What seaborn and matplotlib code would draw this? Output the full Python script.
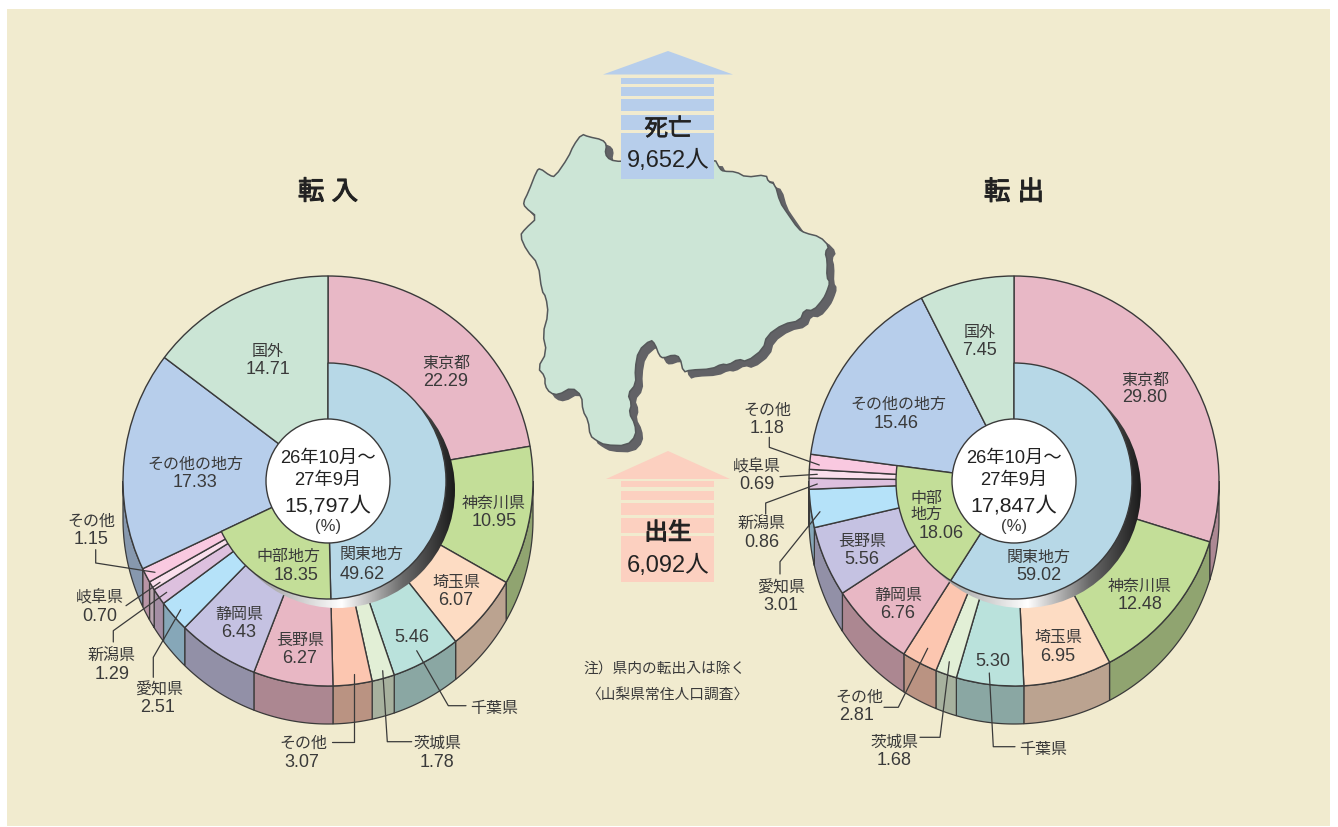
import numpy as np
import seaborn as sns
import matplotlib
matplotlib.use('Agg')
import matplotlib.pyplot as plt
import matplotlib.patheffects as pe
from matplotlib.colors import LinearSegmentedColormap
from matplotlib.patches import Circle, Polygon, Rectangle

# ----------------------------------------------------------------
# Data
# ----------------------------------------------------------------
in_names = ['東京都', '神奈川県', '埼玉県', '千葉県', '茨城県', 'その他', '長野県', '静岡県',
            '愛知県', '新潟県', '岐阜県', 'その他', 'その他の地方', '国外']
in_values = [22.29, 10.95, 6.07, 5.46, 1.78, 3.07, 6.27, 6.43, 2.51, 1.29, 0.70, 1.15, 17.33, 14.71]
in_inner_names = ['関東地方', '中部地方']
in_inner_values = [49.62, 18.35]
in_total = '15,797人'

out_names = ['東京都', '神奈川県', '埼玉県', '千葉県', '茨城県', 'その他', '静岡県', '長野県',
             '愛知県', '新潟県', '岐阜県', 'その他', 'その他の地方', '国外']
out_values = [29.80, 12.48, 6.95, 5.30, 1.68, 2.81, 6.76, 5.56, 3.01, 0.86, 0.69, 1.18, 15.46, 7.45]
out_inner_names = ['関東地方', '中部\n地方']
out_inner_values = [59.02, 18.06]
out_total = '17,847人'

deaths = '9,652人'
births = '6,092人'
period = ['26年10月～', '27年9月']

# colours, clockwise from 12 o'clock
ring_colors = ['#E8B8C6', '#C3DE98', '#FDDCC3', '#BAE2DC', '#E2EFD6', '#FCC6B0', '#E8B7C4', '#C5C2E2',
               '#B5E2F9', '#DDC0DE', '#FADFEC', '#F9C9E0', '#B7CEEB', '#CBE5D5']
inner_colors = ['#B7D8E7', '#C3DE98']

# name and value centres (px), same order as the names
in_name_xy = [(446, 362), (494, 502), (456, 581), (494, 707), (437, 742), (303, 742), (300, 639),
              (239, 613), (159, 688), (112, 655), (100, 596), (91, 520), (195, 463), (268, 350)]
in_value_xy = [(446, 380), (494, 520), (456, 599), (412, 636), (437, 761), (302, 761), (300, 657),
               (239, 631), (158, 706), (112, 673), (100, 615), (91, 538), (195, 481), (268, 368)]
in_inner_name_xy = [(372, 553), (288, 555)]
in_inner_value_xy = [(362, 573), (296, 574)]

out_name_xy = [(1145, 379), (1140, 585), (1058, 636), (1043, 748), (894, 741), (859, 696), (898, 594),
               (862, 540), (781, 586), (762, 523), (757, 465), (767, 409), (898, 403), (980, 331)]
out_value_xy = [(1145, 396), (1140, 603), (1058, 655), (993, 660), (894, 759), (857, 714), (898, 612),
                (862, 558), (781, 604), (762, 541), (757, 483), (767, 427), (896, 422), (980, 349)]
out_inner_name_xy = [(1039, 556), (926, 505)]
out_inner_value_xy = [(1039, 574), (941, 532)]

in_leaders = [[(95.7, 550.7), (95.7, 564), (155, 573.3)],
              [(126, 606.7), (160, 583.3)],
              [(113.3, 643), (113.3, 631.7), (166.7, 593.3)],
              [(153.3, 678.3), (153.3, 658.3), (180.7, 610.7)],
              [(331.7, 742.7), (354, 742.7), (354, 675)],
              [(411.7, 742.7), (387.3, 742.7), (382.7, 671.7)],
              [(466, 706.7), (448.3, 706.7), (416.7, 651.7)]]
out_leaders = [[(769.3, 438.3), (769.3, 448.3), (819.3, 466)],
               [(780, 477.7), (817.3, 475.3)],
               [(765.7, 515), (765.7, 504), (817.3, 485)],
               [(780, 575), (780, 562.7), (820, 512.7)],
               [(884, 708.3), (898.3, 708.3), (927.7, 649.3)],
               [(920, 738.3), (940, 738.3), (949.3, 662.7)],
               [(1015, 747.7), (993.3, 747.7), (989.3, 674)]]

# outline of the prefecture (px), traced clockwise from the north tip
map_outline = [(581.7, 135), (588.3, 137.7), (602.3, 140.7), (606.7, 145.7), (605, 155), (610, 161),
               (621, 162.7), (714.3, 159.3), (720, 170), (723.3, 172.3), (736, 172.7), (746, 178.3),
               (766, 175.7), (768.3, 182.7), (775, 185), (780, 203.3), (786.7, 213.3), (798.3, 230),
               (805, 234), (820, 237.7), (829.3, 247.3), (825, 253.3), (827.3, 261.7), (826.7, 278.3),
               (830, 283.3), (826.7, 293), (823.3, 300), (813.3, 311.7), (804.3, 310.7), (800, 321.7),
               (783.3, 325), (766.7, 336.7), (763.3, 350), (746.7, 362.7), (738.3, 360), (728.3, 366),
               (721.7, 365), (711.7, 370), (690, 371), (683.3, 373.3), (680, 358.3), (673.3, 355.7),
               (663.3, 359.3), (659.3, 356.7), (655, 345), (650.7, 340.7), (638.3, 351.7), (635, 370),
               (636, 385), (627.7, 395), (631.7, 405), (629, 414), (635, 425), (636, 436.7), (626.7, 446.7),
               (605, 446), (596.7, 441.7), (590, 436.7), (588.3, 421.7), (582.7, 411.7), (581.7, 396.7),
               (571.7, 388.3), (558.3, 396), (550, 394), (545, 386.7), (545, 377.3), (537.7, 369),
               (546.7, 353.3), (542.7, 335), (548.3, 315), (546, 298), (541.7, 291.7), (538.3, 265),
               (526.7, 251.7), (520, 236.7), (525, 230), (537.7, 218.3), (525, 208.3), (523.3, 203.3),
               (528.3, 193.3), (536.7, 171.7), (540, 169.3), (550, 176.7), (555, 177.7), (568.3, 158.3),
               (573.3, 146.7)]

# ----------------------------------------------------------------
# Layout
# ----------------------------------------------------------------
BG = '#F1EBCF'
INK = '#3a3a3a'
DARK = '#222222'
R_OUT, R_IN, R_HOLE, DEPTH = 205, 118, 62, 38
CY = 482

sns.set_theme(style='white')
# Latin digits come from Liberation, the kanji fall through to Noto
plt.rcParams['font.family'] = ['Liberation Sans', 'Noto Sans CJK JP']

fig = plt.figure(figsize=(13.38, 8.28), dpi=100, facecolor='white')
ax = fig.add_axes([0, 0, 1, 1])
ax.add_patch(Rectangle((7, 10), 1323, 817, fc=BG, ec='none', zorder=0))


def draw_walls(cx, values, colors):
    """Side of the drum: only the part of each slice facing down is visible."""
    edges = np.cumsum([0] + list(values)) / sum(values) * 360 - 90
    for a, b, col in zip(edges[:-1], edges[1:], colors):
        a, b = max(a, 0), min(b, 180)
        if b <= a:
            continue
        t = np.radians(np.linspace(a, b, 40))
        x, y = cx + R_OUT * np.cos(t), CY + R_OUT * np.sin(t)
        pts = np.r_[np.c_[x, y], np.c_[x, y + DEPTH][::-1]]
        dark = tuple(np.array(col) * 0.74)
        ax.add_patch(Polygon(pts, fc=dark, ec=INK, lw=0.9, zorder=1))


def draw_drum(cx, values, inner_values):
    palette = sns.color_palette(ring_colors)
    draw_walls(cx, values, palette)
    wedges, _ = ax.pie(values, colors=palette, radius=R_OUT, center=(cx, CY), startangle=-90,
                       counterclock=True, frame=True,
                       wedgeprops=dict(edgecolor=INK, linewidth=1.0))
    for w in wedges:
        w.set_zorder(2)
    # the last two slices run right up to the hole, keep them over the crescent
    for w in wedges[-2:]:
        w.set_zorder(3.5)

    # metal looking crescent under the inner ring
    shade = LinearSegmentedColormap.from_list('metal', [(0, '#6f6f6f'), (0.52, '#ffffff'),
                                                        (0.78, '#6a6a6a'), (1, '#1c1c1c')])
    off = 9
    img = ax.imshow(np.linspace(0, 1, 256)[None, :], cmap=shade, aspect='equal', zorder=3,
                    extent=(cx + off - R_IN, cx + off + R_IN, CY + off + R_IN, CY + off - R_IN))
    img.set_clip_path(Circle((cx + off, CY + off), R_IN, transform=ax.transData))

    rest = 100 - sum(inner_values)
    ring, _ = ax.pie(list(inner_values) + [rest], colors=inner_colors + ['none'], radius=R_IN,
                     center=(cx, CY), startangle=-90, counterclock=True, frame=True,
                     wedgeprops=dict(edgecolor=INK, linewidth=1.0))
    for w in ring:
        w.set_zorder(4)
    ring[-1].set_visible(False)
    ax.add_patch(Circle((cx, CY), R_HOLE, fc='white', ec=INK, lw=1.0, zorder=5))


def label(x, y, s, size=11.5, color=INK, heavy=0):
    # text sits a little high with va=center, nudge it down
    t = ax.text(x, y + 1.5, s, ha='center', va='center', fontsize=size, color=color,
                linespacing=1.05, zorder=8)
    if heavy:
        # no medium weight of the CJK font, a thin stroke does the job
        t.set_path_effects([pe.withStroke(linewidth=heavy, foreground=color)])


def draw_labels(names, values, name_xy, value_xy):
    for name, val, nxy, vxy in zip(names, values, name_xy, value_xy):
        label(nxy[0], nxy[1], name)
        label(vxy[0], vxy[1], f'{val:.2f}', size=13)


def smooth(pts, rounds=1):
    # corner cutting so the traced outline is not so angular
    for _ in range(rounds):
        nxt = np.roll(pts, -1, axis=0)
        pts = np.c_[0.75 * pts + 0.25 * nxt, 0.25 * pts + 0.75 * nxt].reshape(-1, 2)
    return pts


draw_drum(328, in_values, in_inner_values)
draw_drum(1014, out_values, out_inner_values)

draw_labels(in_names, in_values, in_name_xy, in_value_xy)
draw_labels(out_names, out_values, out_name_xy, out_value_xy)
draw_labels(in_inner_names, in_inner_values, in_inner_name_xy, in_inner_value_xy)
draw_labels(out_inner_names, out_inner_values, out_inner_name_xy, out_inner_value_xy)

for leader in in_leaders + out_leaders:
    xs, ys = zip(*leader)
    ax.plot(xs, ys, color=INK, lw=0.9, zorder=7)

for cx, total in [(328, in_total), (1014, out_total)]:
    label(cx, 457, period[0], size=13.2, color=DARK)
    label(cx, 479, period[1], size=13.2, color=DARK)
    label(cx, 504, total, size=15.4, color=DARK)
    label(cx, 525, '(%)', size=12)

label(328, 192, '転 入', size=19, color=DARK, heavy=0.8)
label(1014, 192, '転 出', size=19, color=DARK, heavy=0.8)

# map with its drop shadow
outline = smooth(np.array(map_outline, dtype=float))
ax.add_patch(Polygon(outline + [6.5, 6], fc='#626266', ec='#626266', lw=1.2, zorder=2))
ax.add_patch(Polygon(outline, fc='#CCE5D6', ec='#55585a', lw=1.1, zorder=2.5))

# arrows
for tip_y, base_y, half, bands, col in [
        (52, 75.5, 65, [(78.6, 85), (87.9, 97.1), (100, 112.1), (116, 131), (133.9, 179.6)], '#B7CEEB'),
        (452, 480, 62, [(482.1, 487.9), (492, 501), (504, 516), (519, 534), (536.8, 582.5)], '#FCD0C0')]:
    ax.add_patch(Polygon([(668 - half, base_y), (668, tip_y), (668 + half, base_y)], fc=col, ec='none', zorder=6))
    for top, bottom in bands:
        ax.add_patch(Rectangle((621, top), 93, bottom - top, fc=col, ec='none', zorder=6))

label(668, 129, '死亡', size=17, color=DARK, heavy=0.5)
label(668, 159, deaths, size=17, color=DARK)
label(668, 533, '出生', size=17, color=DARK, heavy=0.8)
label(668, 564, births, size=17, color=DARK)

label(665, 668, '注）県内の転出入は除く', size=10.6)
label(667, 693, '〈山梨県常住人口調査〉', size=10.6)

ax.set_xlim(0, 1338)
ax.set_ylim(828, 0)
ax.set_aspect('equal')
ax.axis('off')
fig.savefig('out.png', dpi=100, facecolor='white')
